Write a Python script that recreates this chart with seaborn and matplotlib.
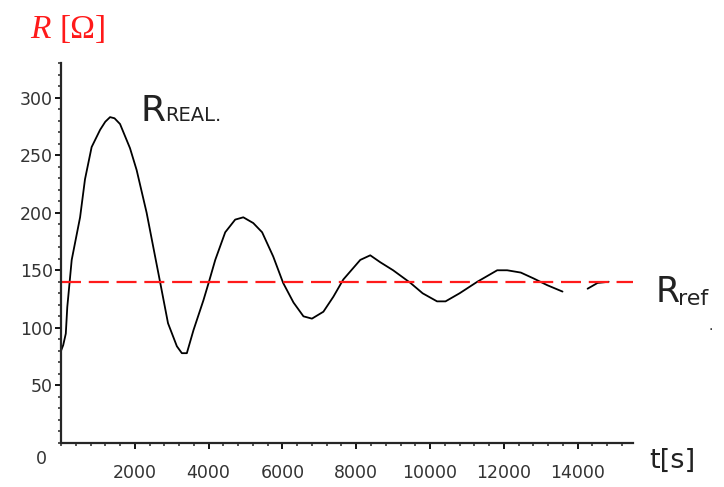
import matplotlib
matplotlib.use("Agg")
import matplotlib.pyplot as plt
from matplotlib.ticker import MultipleLocator
import numpy as np
import pandas as pd
import seaborn as sns

# response (t in s, R in ohm); the curve has a gap near 14000 s
t_first = [0, 60, 130, 170, 290, 517, 650, 830, 1060, 1200, 1330, 1450, 1600,
           1870, 2050, 2320, 2550, 2690, 2900, 3140, 3275, 3410, 3590, 3860,
           4000, 4180, 4450, 4720, 4940, 5210, 5450, 5750, 6020, 6300, 6570,
           6800, 7110, 7380, 7650, 8110, 8380, 8650, 9000, 9470, 9800, 10190,
           10420, 10800, 11280, 11820, 12090, 12460, 12800, 13180, 13590]
r_first = [80, 85, 95, 118, 159, 196, 229, 257, 272, 279, 283, 282, 277,
           256, 237, 200, 162, 139, 104, 84, 78, 78, 98, 124,
           139, 159, 183, 194, 196, 191, 183, 162, 139, 122, 110,
           108, 114, 127, 142, 159, 163, 157, 150, 139, 130, 123,
           123, 130, 140, 150, 150, 148, 143, 137, 131.5]
t_second = [14270, 14540, 14840]
r_second = [134, 139, 140]
R_REF = 140

x_ticks = [2000, 4000, 6000, 8000, 10000, 12000, 14000]
y_ticks = [50, 100, 150, 200, 250, 300]

df = pd.DataFrame({
    "t": t_first + t_second,
    "R": r_first + r_second,
    "seg": [0] * len(t_first) + [1] * len(t_second),
})

sns.set_style("ticks")
plt.rcParams["font.family"] = ["DejaVu Sans"]

W, H = 724, 487
fig = plt.figure(figsize=(W / 100, H / 100), dpi=100)
ax = fig.add_axes([61 / W, 1 - 443 / H, 572 / W, 380 / H])

sns.lineplot(data=df, x="t", y="R", units="seg", estimator=None,
             color="black", linewidth=1.3, ax=ax)
ax.axhline(R_REF, color="#ff1a1a", linewidth=1.6, dashes=(9, 3.5))

ax.set_xlim(0, 15500)
ax.set_ylim(0, 330)
ax.set_xticks(x_ticks)
ax.set_yticks(y_ticks)
ax.xaxis.set_minor_locator(MultipleLocator(400))
ax.yaxis.set_minor_locator(MultipleLocator(10))
ax.set_xlabel("")
ax.set_ylabel("")
for s in ["top", "right"]:
    ax.spines[s].set_visible(False)
for s in ["left", "bottom"]:
    ax.spines[s].set_linewidth(1.6)
ax.tick_params(which="major", length=4, width=1.3, labelsize=12.5,
               colors="black", labelcolor="#333333")
ax.tick_params(which="minor", length=2.5, width=1.1)
ax.tick_params(axis="x", which="major", pad=11)
ax.tick_params(axis="y", which="major", pad=2)


def px(x, y):
    return x / W, 1 - y / H


fig.text(*px(41.5, 459), "0", fontsize=12.5, color="#333333",
         ha="center", va="center")
fig.text(*px(30, 38), "R", fontsize=24, color="#ff1a1a", style="italic",
         family="Liberation Serif", ha="left", va="baseline")
fig.text(*px(60, 38), "[\u03a9]", fontsize=24, color="#ff1a1a",
         family="Liberation Serif", ha="left", va="baseline")
fig.text(*px(140, 121), "R", fontsize=26, color="#222222",
         ha="left", va="baseline")
fig.text(*px(165, 121), "REAL.", fontsize=14, color="#222222",
         ha="left", va="baseline")
fig.text(*px(656, 302), "R", fontsize=25, color="#222222",
         ha="left", va="baseline")
fig.text(*px(678, 305), "ref", fontsize=16, color="#222222",
         ha="left", va="baseline")
fig.text(*px(711, 330), ".", fontsize=10, color="#222222",
         ha="center", va="baseline")
fig.text(*px(649, 468), "t[s]", fontsize=19.5, color="#222222",
         ha="left", va="baseline")

fig.savefig("out.png", dpi=100)
